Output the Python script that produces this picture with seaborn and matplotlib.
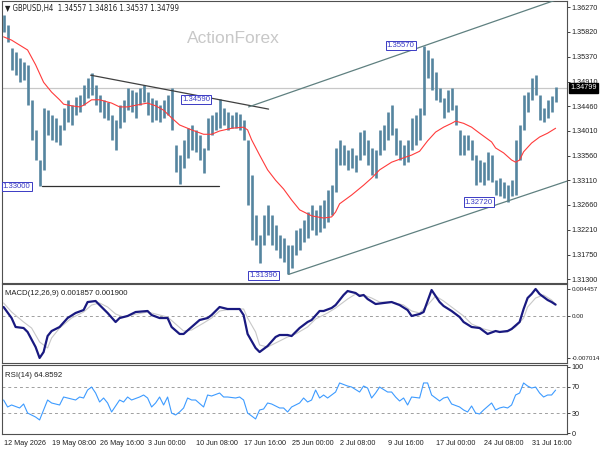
import numpy as np
import matplotlib
matplotlib.use("Agg")
import matplotlib.pyplot as plt
import seaborn as sns

sns.set_style("white")
plt.rcParams['font.family'] = ['Liberation Sans', 'DejaVu Sans']

# GBPUSD H4 bars, one entry per bar
highs = [1.3613, 1.3595, 1.3553, 1.3545, 1.3534, 1.3527, 1.3522, 1.3458, 1.3403, 1.3348,
         1.3443, 1.3439, 1.3430, 1.3425, 1.3412, 1.3443, 1.3458, 1.3448, 1.3463, 1.3467,
         1.3485, 1.3498, 1.3507, 1.3485, 1.3467, 1.3458, 1.3454, 1.3430, 1.3421, 1.3448,
         1.3458, 1.3480, 1.3476, 1.3472, 1.3480, 1.3485, 1.3472, 1.3461, 1.3458, 1.3448,
         1.3458, 1.3467, 1.3480, 1.3375, 1.3357, 1.3385, 1.3406, 1.3412, 1.3403, 1.3394,
         1.3370, 1.3425, 1.3430, 1.3436, 1.3459, 1.3443, 1.3436, 1.3430, 1.3436, 1.3432,
         1.3421, 1.3385, 1.3321, 1.3247, 1.3211, 1.3247, 1.3266, 1.3247, 1.3229, 1.3211,
         1.3206, 1.3193, 1.3193, 1.3220, 1.3224, 1.3238, 1.3253, 1.3266, 1.3257, 1.3266,
         1.3275, 1.3293, 1.3302, 1.3370, 1.3385, 1.3375, 1.3366, 1.3370, 1.3357, 1.3399,
         1.3403, 1.3385, 1.3370, 1.3366, 1.3403, 1.3412, 1.3436, 1.3448, 1.3406, 1.3385,
         1.3375, 1.3385, 1.3425, 1.3430, 1.3443, 1.3557, 1.3549, 1.3534, 1.3509, 1.3480,
         1.3461, 1.3476, 1.3480, 1.3448, 1.3403, 1.3394, 1.3394, 1.3385, 1.3357, 1.3348,
         1.3344, 1.3363, 1.3357, 1.3311, 1.3315, 1.3308, 1.3302, 1.3311, 1.3385, 1.3412,
         1.3467, 1.3472, 1.3498, 1.3503, 1.3467, 1.3443, 1.3458, 1.3465, 1.3482]
lows = [1.3582, 1.3564, 1.3512, 1.3503, 1.3490, 1.3494, 1.3448, 1.3385, 1.3348, 1.3300,
        1.3330, 1.3394, 1.3385, 1.3381, 1.3375, 1.3403, 1.3417, 1.3412, 1.3430, 1.3436,
        1.3448, 1.3461, 1.3467, 1.3448, 1.3436, 1.3425, 1.3421, 1.3385, 1.3366, 1.3406,
        1.3417, 1.3439, 1.3436, 1.3425, 1.3448, 1.3454, 1.3430, 1.3417, 1.3421, 1.3417,
        1.3425, 1.3430, 1.3403, 1.3326, 1.3304, 1.3333, 1.3352, 1.3366, 1.3363, 1.3348,
        1.3324, 1.3366, 1.3394, 1.3403, 1.3406, 1.3412, 1.3403, 1.3406, 1.3406, 1.3403,
        1.3385, 1.3266, 1.3202, 1.3193, 1.3160, 1.3193, 1.3211, 1.3193, 1.3184, 1.3169,
        1.3162, 1.3139, 1.3151, 1.3174, 1.3184, 1.3198, 1.3206, 1.3220, 1.3211, 1.3216,
        1.3224, 1.3235, 1.3247, 1.3290, 1.3339, 1.3339, 1.3330, 1.3333, 1.3326, 1.3348,
        1.3357, 1.3339, 1.3321, 1.3315, 1.3357, 1.3366, 1.3385, 1.3394, 1.3357, 1.3348,
        1.3339, 1.3344, 1.3366, 1.3375, 1.3385, 1.3430, 1.3498, 1.3476, 1.3458, 1.3454,
        1.3425, 1.3436, 1.3439, 1.3412, 1.3357, 1.3357, 1.3366, 1.3348, 1.3302, 1.3308,
        1.3302, 1.3311, 1.3308, 1.3284, 1.3282, 1.3279, 1.3272, 1.3282, 1.3284, 1.3348,
        1.3403, 1.3436, 1.3458, 1.3467, 1.3421, 1.3417, 1.3425, 1.3436, 1.3454]
last_close = 1.34799

# red moving average, sampled at some bars
ma_bar = [0, 2, 4, 6, 8, 10, 12, 14, 15, 17, 19, 20, 22, 24, 27, 29, 31, 33, 36, 38,
          40, 42, 44, 47, 50, 52, 54, 57, 60, 61, 62, 64, 66, 68, 70, 72, 74, 77, 80, 82,
          83, 84, 87, 90, 92, 94, 97, 100, 102, 104, 106, 108, 110, 112, 113, 115, 117, 119, 122, 123,
          125, 127, 128, 129, 130, 132, 134, 136, 138]
ma_val = [1.3573, 1.3567, 1.3558, 1.3549, 1.3522, 1.3490, 1.3472, 1.3458, 1.3450, 1.3447,
          1.3445, 1.3448, 1.3458, 1.3458, 1.3452, 1.3445, 1.3445, 1.3448, 1.3452, 1.3447,
          1.3439, 1.3425, 1.3412, 1.3403, 1.3395, 1.3395, 1.3401, 1.3406, 1.3408, 1.3403,
          1.3385, 1.3357, 1.3330, 1.3311, 1.3295, 1.3275, 1.3257, 1.3246, 1.3242, 1.3244,
          1.3253, 1.3268, 1.3284, 1.3302, 1.3315, 1.3330, 1.3344, 1.3352, 1.3357, 1.3364,
          1.3383, 1.3399, 1.3408, 1.3415, 1.3419, 1.3415, 1.3408, 1.3397, 1.3381, 1.3370,
          1.3361, 1.3348, 1.3344, 1.3348, 1.3363, 1.3379, 1.3390, 1.3397, 1.3406]

# MACD(12,26,9)
macd_bar = [0, 2, 3, 5, 6, 8, 9, 10, 11, 12, 14, 16, 18, 20, 21, 23, 24, 26, 28, 29,
            31, 33, 36, 37, 39, 41, 42, 44, 45, 47, 49, 51, 52, 54, 56, 59, 60, 61, 63, 64,
            65, 66, 68, 69, 71, 72, 74, 76, 77, 79, 80, 82, 83, 85, 86, 88, 89, 90, 91, 93,
            95, 97, 99, 101, 102, 104, 105, 106, 107, 108, 109, 110, 112, 114, 115, 117, 119, 120, 121, 123,
            124, 126, 127, 129, 130, 131, 132, 133, 134, 136, 137, 138]
macd_val = [0.00146, -0.00037, -0.00186, -0.00203, -0.00269, -0.00519, -0.00701, -0.00602, -0.00336, -0.00253,
            -0.00186, -0.00037, 0.00047, 0.00096, 0.00229, 0.00246, 0.00179, 0.00047, -0.00103, -0.00037,
            -0.00003, 0.00063, 0.00080, 0.00013, -0.00037, -0.00037, -0.00186, -0.00302, -0.00302, -0.00186,
            -0.00070, -0.00037, 0.00013, 0.00146, 0.00113, 0.00113, 0.00013, -0.00302, -0.00535, -0.00602,
            -0.00552, -0.00502, -0.00352, -0.00319, -0.00319, -0.00336, -0.00203, -0.00103, -0.00070, 0.00080,
            0.00080, 0.00130, 0.00179, 0.00346, 0.00412, 0.00379, 0.00329, 0.00346, 0.00279, 0.00196,
            0.00213, 0.00229, 0.00179, 0.00096, -0.00003, 0.00030, 0.00063, 0.00246, 0.00429, 0.00329,
            0.00229, 0.00163, 0.00080, -0.00020, -0.00103, -0.00186, -0.00203, -0.00253, -0.00302, -0.00253,
            -0.00269, -0.00253, -0.00219, -0.00103, 0.00113, 0.00296, 0.00362, 0.00446, 0.00362, 0.00263,
            0.00229, 0.00186]
sig_bar = [0, 2, 5, 7, 9, 11, 12, 14, 17, 20, 22, 24, 26, 28, 30, 32, 36, 38, 41, 43,
           45, 47, 50, 52, 54, 57, 60, 61, 63, 64, 66, 69, 71, 73, 76, 78, 81, 83, 86, 88,
           90, 92, 94, 97, 100, 102, 104, 106, 108, 110, 112, 115, 117, 120, 122, 126, 128, 130, 131, 133,
           135, 137, 138]
sig_val = [0.00213, 0.00063, -0.00103, -0.00203, -0.00435, -0.00535, -0.00369, -0.00203, -0.00037, 0.00063,
           0.00179, 0.00213, 0.00146, 0.00030, -0.00020, 0.00013, 0.00063, 0.00030, -0.00020, -0.00136,
           -0.00253, -0.00236, -0.00120, -0.00037, 0.00080, 0.00113, 0.00113, -0.00037, -0.00269, -0.00485,
           -0.00519, -0.00419, -0.00352, -0.00302, -0.00186, -0.00053, 0.00047, 0.00130, 0.00279, 0.00362,
           0.00346, 0.00296, 0.00229, 0.00229, 0.00179, 0.00080, 0.00047, 0.00179, 0.00329, 0.00246,
           0.00146, -0.00003, -0.00136, -0.00219, -0.00253, -0.00269, -0.00186, -0.00037, 0.00146, 0.00296,
           0.00346, 0.00263, 0.00190]

# RSI(14)
rsi_bar = [0, 1, 2, 4, 5, 6, 8, 9, 10, 11, 12, 13, 14, 15, 16, 18, 19, 20, 21, 22,
           23, 24, 25, 26, 27, 29, 30, 31, 32, 34, 35, 36, 37, 38, 39, 40, 41, 42, 43, 44,
           45, 46, 47, 48, 50, 51, 52, 54, 55, 56, 58, 59, 60, 61, 62, 63, 64, 65, 66, 67,
           69, 70, 71, 72, 74, 75, 76, 77, 78, 79, 80, 81, 83, 84, 86, 87, 89, 90, 91, 92,
           93, 94, 96, 97, 98, 99, 100, 101, 102, 104, 105, 106, 107, 109, 110, 111, 112, 114, 115, 116,
           117, 118, 119, 120, 122, 123, 124, 125, 126, 127, 128, 129, 130, 131, 132, 133, 134, 135, 136, 137,
           138]
rsi_val = [50, 39.5, 42.5, 38, 44, 30.4, 24.4, 20, 35, 50, 45.5, 44, 42.5, 54.5, 53, 50, 54.5, 53, 65, 69.5,
           60.5, 47, 53, 45.5, 32, 50, 47, 54.5, 50, 54.5, 57.5, 53, 39.5, 45.5, 54.5, 42.5, 54.5, 30.4, 27.5, 32,
           38, 53, 50, 50, 39.5, 57.5, 56, 60.5, 54.5, 54.5, 53, 54.5, 50, 30.4, 26, 21.5, 35, 36.5, 45.5, 44,
           38, 38, 32, 39.5, 45.5, 53, 47, 50, 65, 53, 57.5, 53, 62, 75.6, 71, 69.5, 62, 71, 68, 53,
           60.5, 69.5, 62, 62, 54.5, 48.5, 53, 42.5, 54.5, 53, 75.6, 75.6, 57.5, 48.5, 53, 54.5, 44, 39.5, 35, 32,
           41, 30.4, 29, 35, 45.5, 35, 38, 39.5, 38, 42.5, 57.5, 60.5, 75.6, 71, 68, 69.5, 60.5, 54.5, 57.5, 57.5,
           64.86]

# drawn objects: trend lines and marked levels (bar, price)
trend_down = ([21.75, 66.25], [1.3503, 1.3441])
channel_up = ([61.25, 145.0], [1.3445, 1.3658])
channel_low = ([71.25, 141.5], [1.3139, 1.3311])
support = ([9.5, 53.75], [1.3300, 1.3300])
marks = [(-0.2, 1.3300, "1.33000"), (44.6, 1.3458, "1.34590"), (61.5, 1.3137, "1.31390"),
         (95.8, 1.3557, "1.35570"), (115.3, 1.3271, "1.32720")]

price_ticks = [1.36270, 1.35820, 1.35370, 1.34910, 1.34460, 1.34010,
               1.33560, 1.33110, 1.32660, 1.32210, 1.31750, 1.31300]
date_pos = [0, 12, 24, 36, 48, 60, 72, 84, 96, 108, 120, 132]
date_labels = ["12 May 2026", "19 May 08:00", "26 May 16:00", "3 Jun 00:00", "10 Jun 08:00",
               "17 Jun 16:00", "25 Jun 00:00", "2 Jul 08:00", "9 Jul 16:00", "17 Jul 00:00",
               "24 Jul 08:00", "31 Jul 16:00"]

bars = np.arange(len(highs))
fs = 5.6
tick_fs = 5.2
bar_col = '#55859f'
box_col = '#3a3ac4'

fig = plt.figure(figsize=(6, 4.5), dpi=100)
ax = fig.add_axes([2/600, 1-283/450, 565/600, 282/450])
ax_m = fig.add_axes([2/600, 1-363/450, 565/600, 79/450], sharex=ax)
ax_r = fig.add_axes([2/600, 1-434/450, 565/600, 69/450], sharex=ax)

# price panel
ax.axhline(last_close, color='#c8c8c8', lw=0.9, zorder=1)
ax.vlines(bars, lows, highs, color=bar_col, lw=1.9, zorder=3)
sns.lineplot(x=ma_bar, y=ma_val, ax=ax, color='#ff3b3b', lw=0.8, zorder=4)
ax.plot(*trend_down, color='#404040', lw=0.9, zorder=5)
ax.plot(*support, color='#303030', lw=0.9, zorder=2)
ax.plot(*channel_up, color='#5f8080', lw=0.9, zorder=5)
ax.plot(*channel_low, color='#5f8080', lw=0.9, zorder=5)
for bx, by, txt in marks:
    ax.text(bx, by, txt, fontsize=fs, color=box_col, ha='left', va='center', zorder=6,
            bbox=dict(boxstyle='square,pad=0.15', fc='white', ec=box_col, lw=0.7))
ax.text(0.41, 0.868, "ActionForex", transform=ax.transAxes, fontsize=12.5,
        color='#c8c8c8', ha='center', va='center')
ax.text(0.006, 0.973, "\u25bc GBPUSD,H4  1.34557 1.34816 1.34537 1.34799",
        transform=ax.transAxes, fontsize=fs, color='#202020', ha='left', va='center',
        family=['DejaVu Sans'], fontstretch='condensed')
ax.set_ylim(1.31233, 1.36385)
ax.set_xlim(-0.4, 140.85)
ax.set_yticks(price_ticks)
ax.set_yticklabels([f"{p:.5f}" for p in price_ticks])
ax.text(1.006, last_close, f"{last_close:.5f}", transform=ax.get_yaxis_transform(),
        fontsize=tick_fs, color='white', ha='left', va='center', zorder=7,
        bbox=dict(boxstyle='square,pad=0.2', fc='black', ec='black'))

# MACD panel
ax_m.axhline(0, color='#a0a0a0', lw=0.7, ls=(0, (3, 3)))
sns.lineplot(x=sig_bar, y=sig_val, ax=ax_m, color='#c8c8c8', lw=0.8)
sns.lineplot(x=macd_bar, y=macd_val, ax=ax_m, color='#191980', lw=1.6)
ax_m.set_ylim(-0.007845, 0.005288)
ax_m.set_yticks([0.004457, 0.0, -0.007014])
ax_m.set_yticklabels(["0.004457", "0.00", "-0.007014"])
ax_m.text(0.005, 0.88, "MACD(12,26,9) 0.001857 0.001900", transform=ax_m.transAxes,
          fontsize=fs, color='#202020', ha='left', va='center')

# RSI panel
for lvl in [70, 30]:
    ax_r.axhline(lvl, color='#a0a0a0', lw=0.7, ls=(0, (3, 3)))
sns.lineplot(x=rsi_bar, y=rsi_val, ax=ax_r, color='#3d9bff', lw=0.8)
ax_r.set_ylim(-1.1, 102.6)
ax_r.set_yticks([100, 70, 30, 0])
ax_r.set_yticklabels(["100", "70", "30", "0"])
ax_r.text(0.005, 0.85, "RSI(14) 64.8592", transform=ax_r.transAxes,
          fontsize=fs, color='#202020', ha='left', va='center')
ax_r.set_xticks(date_pos)
ax_r.set_xticklabels(date_labels, ha='left')

for a in (ax, ax_m, ax_r):
    a.yaxis.tick_right()
    a.tick_params(axis='y', direction='out', length=2.5, width=0.6, labelsize=tick_fs,
                  pad=1.0, colors='#202020')
    a.tick_params(axis='x', direction='out', length=3, width=0.6, labelsize=tick_fs,
                  pad=1.5, colors='#202020')
    a.set_xlabel("")
    a.set_ylabel("")
    for s in a.spines.values():
        s.set_color('#505050')
        s.set_linewidth(0.8)
    a.grid(False)
ax_m.tick_params(axis='y', labelsize=4.5, pad=0.8)
ax.tick_params(axis='x', bottom=False, labelbottom=False)
ax_m.tick_params(axis='x', bottom=False, labelbottom=False)
ax_r.set_xlim(-0.4, 140.85)

fig.savefig("out.png", dpi=100)
